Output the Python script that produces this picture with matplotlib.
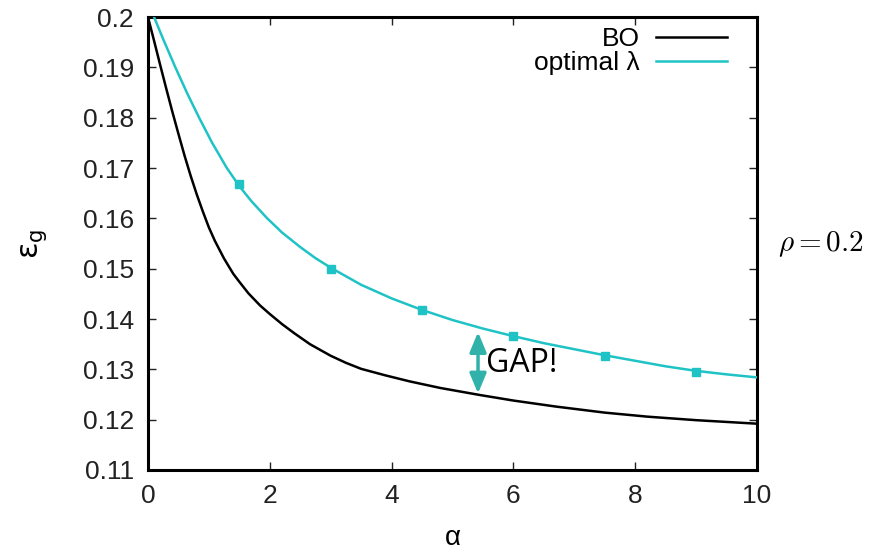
import matplotlib
matplotlib.use('Agg')
import matplotlib.pyplot as plt

# values
bo_alpha = [0.0, 0.1, 0.2, 0.3, 0.4, 0.5, 0.6, 0.7, 0.8, 0.9, 1.0, 1.1, 1.25,
            1.4, 1.5, 1.65, 1.84, 2.0, 2.2, 2.4, 2.66, 3.0, 3.25, 3.5, 3.9,
            4.3, 4.8, 5.45, 6.0, 6.7, 7.5, 8.2, 9.0, 10.0]
bo_eps = [0.2000, 0.1953, 0.1905, 0.1858, 0.1812, 0.1768, 0.1725, 0.1685,
          0.1648, 0.1614, 0.1582, 0.1555, 0.1520, 0.1490, 0.1474, 0.1451,
          0.1427, 0.1410, 0.1390, 0.1372, 0.1350, 0.1327, 0.1313, 0.1301,
          0.1288, 0.1276, 0.1263, 0.1249, 0.1238, 0.1226, 0.1214, 0.1206,
          0.1199, 0.1192]

opt_alpha = [0.1, 0.25, 0.45, 0.65, 0.84, 1.05, 1.29, 1.5, 1.7, 1.95, 2.2,
             2.5, 2.75, 3.0, 3.5, 4.0, 4.5, 5.0, 5.5, 6.0, 6.5, 7.0, 7.5,
             8.0, 8.5, 9.0, 9.5, 10.0]
opt_eps = [0.2000, 0.1956, 0.1900, 0.1847, 0.1800, 0.1751, 0.1701, 0.1664,
           0.1634, 0.1601, 0.1572, 0.1543, 0.1521, 0.1502, 0.1468, 0.1441,
           0.1418, 0.1398, 0.1381, 0.1366, 0.1352, 0.1340, 0.1328, 0.1317,
           0.1306, 0.1297, 0.1290, 0.1284]

sim_alpha = [1.5, 3.0, 4.5, 6.0, 7.5, 9.0]
sim_eps = [0.1669, 0.1500, 0.1418, 0.1366, 0.1327, 0.1295]
sim_err = [0.0006, 0.0004, 0.0006, 0.0004, 0.0004, 0.0004]

yticks = [0.11, 0.12, 0.13, 0.14, 0.15, 0.16, 0.17, 0.18, 0.19, 0.2]
xticks = [0, 2, 4, 6, 8, 10]

CYAN = '#1fc3c6'
TEAL = '#30b1a9'
FONT = 'Liberation Sans'

fig = plt.figure(figsize=(8.76, 5.49), dpi=100)
fig.patch.set_facecolor('white')
ax = fig.add_axes([0.1689, 0.1439, 0.6952, 0.8251])

ax.plot(bo_alpha, bo_eps, color='black', lw=1.8, label='BO', zorder=3)
ax.plot(opt_alpha, opt_eps, color=CYAN, lw=1.8, label='optimal λ', zorder=3)
ax.errorbar(sim_alpha, sim_eps, yerr=sim_err, fmt='s', color=CYAN,
            ms=5.5, elinewidth=1.8, capsize=0, zorder=4)

ax.set_xlim(0, 10)
ax.set_ylim(0.11, 0.2)
ax.set_xticks(xticks)
ax.set_xticklabels([str(t) for t in xticks])
ax.set_yticks(yticks)
ax.set_yticklabels([f'{t:g}' for t in yticks])
ax.tick_params(direction='in', length=6, width=1.0, top=True, right=True,
               labelsize=19, colors='#222222', pad=10)
for lab in ax.get_xticklabels() + ax.get_yticklabels():
    lab.set_fontfamily(FONT)
for sp in ax.spines.values():
    sp.set_linewidth(2.2)

ax.set_xlabel('α', fontsize=20, fontfamily=FONT, labelpad=12)
ax.set_ylabel(r'$\mathrm{\varepsilon}_\mathrm{g}$', fontsize=22, labelpad=24,
              math_fontfamily='dejavusans')

leg = ax.legend(loc='upper right', bbox_to_anchor=(1.003, 1.047),
                frameon=False, markerfirst=False,
                prop={'family': FONT, 'size': 19}, labelspacing=0.0,
                handlelength=2.7, handletextpad=0.6, borderpad=0.2,
                borderaxespad=1.0)

# GAP annotation
ax.annotate('', xy=(5.42, 0.1252), xytext=(5.42, 0.1374),
            arrowprops=dict(arrowstyle='<|-|>,head_length=1.2,head_width=0.5',
                            color=TEAL, lw=2.5, shrinkA=0, shrinkB=0))
ax.text(5.55, 0.1311, 'GAP!', fontsize=23, fontfamily='Open Sans',
        va='center', ha='left', color='black')

fig.text(0.888, 0.5556, r'$\rho = 0.2$', fontsize=21, va='center', ha='left',
         math_fontfamily='cm')

fig.savefig('out.png', dpi=100, facecolor='white')
